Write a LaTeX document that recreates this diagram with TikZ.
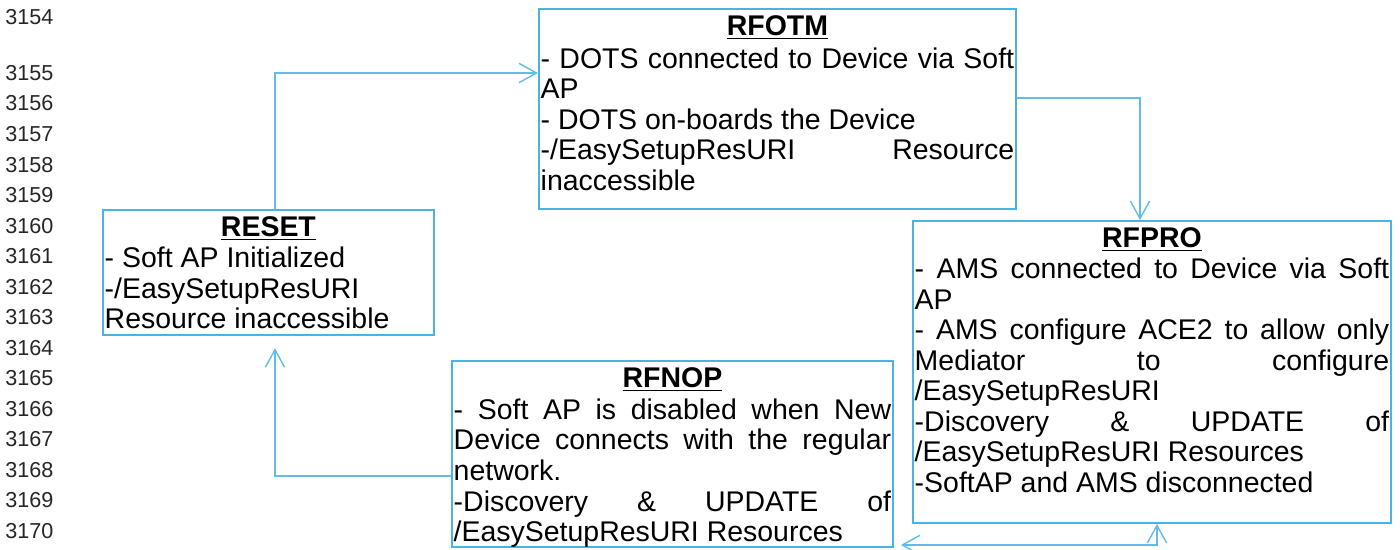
\documentclass[tikz,border=0pt]{standalone}
\usepackage{fontspec}
\setmainfont{Liberation Sans}
\usetikzlibrary{arrows.meta}

\definecolor{boxblue}{RGB}{75,178,228}
\definecolor{linkblue}{RGB}{98,188,232}

\newcommand{\boxtitle}[1]{\makebox[\linewidth]{\textbf{\underline{#1}}}}
\newcommand{\jline}[1]{\makebox[\linewidth][s]{#1}}

\begin{document}
\begin{tikzpicture}[x=0.02cm, y=-0.02cm,
  state/.style={draw=boxblue, line width=1.1pt, anchor=north west,
    inner xsep=1pt, inner ysep=4pt, font=\fontsize{16.2}{17.4}\selectfont},
  lnum/.style={anchor=west, inner sep=0pt, font=\fontsize{12.3}{14}\selectfont, text=black!85},
  link/.style={draw=linkblue, line width=0.8pt},
  >={Straight Barb[length=10pt,width=11pt]}]
  \useasboundingbox (0,0) rectangle (1400,550);

  % line numbers
  \node[lnum] (ln3154) at (5,17) {3154};
  \foreach \n [count=\i from 0] in {3155,...,3170}
    \node[lnum] (ln\n) at (5,73+30.53*\i) {\n};

  % states
  \node[state] (rfotm) at (538,8) {\parbox[c][3.72cm][t]{9.47cm}{%
    \boxtitle{RFOTM}\\[1pt]
    \jline{- DOTS connected to Device via Soft}\\
    AP\\
    - DOTS on-boards the Device\\
    \jline{-/EasySetupResURI Resource}\\
    inaccessible}};

  \node[state] (reset) at (102,209) {\parbox[c][2.22cm][t]{6.55cm}{%
    \boxtitle{RESET}\\
    - Soft AP Initialized\\
    -/EasySetupResURI\\
    Resource inaccessible}};

  \node[state] (rfpro) at (912,220) {\parbox[c][5.76cm][t]{9.49cm}{%
    \boxtitle{RFPRO}\\
    \jline{- AMS connected to Device via Soft}\\
    AP\\
    \jline{- AMS configure ACE2 to allow only}\\
    \jline{Mediator to configure}\\
    /EasySetupResURI\\
    \jline{-Discovery \& UPDATE of}\\
    /EasySetupResURI Resources\\
    -SoftAP and AMS disconnected}};

  \node[state] (rfnop) at (451,360) {\parbox[c][3.44cm][t]{8.75cm}{%
    \boxtitle{RFNOP}\\[0.5pt]
    \jline{- Soft AP is disabled when New}\\
    \jline{Device connects with the regular}\\
    network.\\
    \jline{-Discovery \& UPDATE of}\\
    /EasySetupResURI Resources}};

  % transitions
  \coordinate (k1) at (275,73);
  \coordinate (k2) at (1140,98);
  \coordinate (k3) at (1157,545);
  \coordinate (k4) at (275,476);

  \draw[link,->] (reset.north -| k1) |- (rfotm.west |- k1);
  \draw[link,->] (rfotm.east |- k2) -| (rfpro.north -| k2);
  \draw[link,<->,shorten <=4pt] (rfnop.east |- k3) -| (rfpro.south -| k3);
  \draw[link,->,shorten >=7pt] (rfnop.west |- k4) -| (reset.south -| k4);
\end{tikzpicture}
\end{document}
